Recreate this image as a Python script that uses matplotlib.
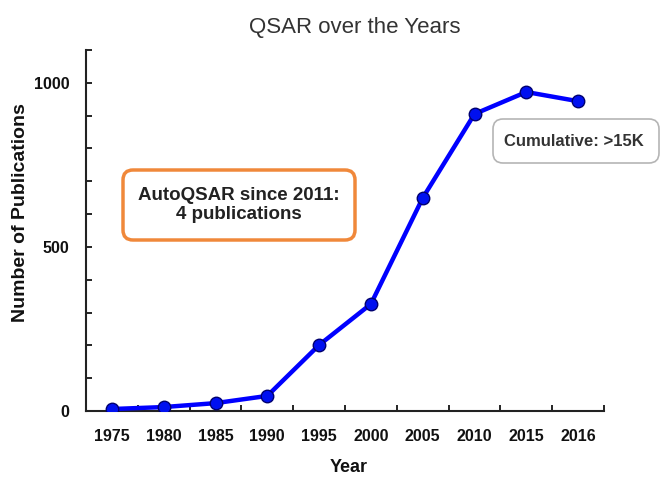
import numpy as np
import matplotlib
matplotlib.use("Agg")
import matplotlib.pyplot as plt
from matplotlib.patches import FancyBboxPatch
from matplotlib.ticker import MultipleLocator, FixedLocator

# ── data ──────────────────────────────────────────────────────────────────────
years = ["1975", "1980", "1985", "1990", "1995", "2000", "2005", "2010", "2015", "2016"]
publications = [6, 12, 24, 46, 201, 326, 649, 905, 972, 944]

plt.rcParams["font.family"] = ["Liberation Sans", "DejaVu Sans"]

fig = plt.figure(figsize=(6.62, 4.78), dpi=100)
ax = fig.add_axes([86 / 662, 67 / 478, 518 / 662, 361 / 478])

x = np.arange(len(years))
ax.plot(x, publications, color="#0000FF", linewidth=3.2, marker="o",
        markersize=9, markerfacecolor="#0010F0", markeredgecolor="#000070",
        markeredgewidth=1.0, zorder=3)

ax.set_xlim(-0.5, len(years) - 0.5)
ax.set_ylim(0, 1100)

# category ticks: labels at centres, tick marks at boundaries
ax.set_xticks(x)
ax.set_xticklabels(years, fontweight="bold", fontsize=11.5, color="#111111")
ax.tick_params(axis="x", which="major", length=0, pad=13)
ax.xaxis.set_minor_locator(FixedLocator(np.arange(0.5, len(years), 1.0)))
ax.tick_params(axis="x", which="minor", direction="in", length=4, width=1.2)

ax.yaxis.set_major_locator(FixedLocator([0, 500, 1000]))
ax.yaxis.set_minor_locator(MultipleLocator(100))
ax.tick_params(axis="y", which="both", direction="in", length=4, width=1.2, pad=12)
for lbl in ax.get_yticklabels():
    lbl.set_fontweight("bold")
    lbl.set_fontsize(11.5)
    lbl.set_color("#111111")

for side in ["top", "right"]:
    ax.spines[side].set_visible(False)
for side in ["left", "bottom"]:
    ax.spines[side].set_linewidth(1.5)
    ax.spines[side].set_color("#222222")

ax.set_xlabel("Year", fontweight="bold", fontsize=13, color="#111111", va="center")
ax.xaxis.set_label_coords(0.508, -0.157)
ax.set_ylabel("Number of Publications", fontweight="bold", fontsize=14,
              color="#111111", va="center", ha="center")
ax.yaxis.set_label_coords(-0.127, 0.551)

fig.text(355 / 662, 1 - 27 / 478, "QSAR over the Years", ha="center", va="center",
         fontsize=16, color="#333333")

# ── annotation boxes (drawn in inch coords, 100 px per inch) ────────────────
def px_box(x0, y0, x1, y1, edge, lw):
    box = FancyBboxPatch((x0 / 100, (478 - y1) / 100), (x1 - x0) / 100, (y1 - y0) / 100,
                         boxstyle="round,pad=0,rounding_size=0.1",
                         transform=fig.dpi_scale_trans, facecolor="white",
                         edgecolor=edge, linewidth=lw, zorder=5)
    fig.add_artist(box)

px_box(123, 170, 355, 240, "#F0883A", 2.5)
fig.text(239 / 662, 1 - 205 / 478, "AutoQSAR since 2011:\n4 publications",
         ha="center", va="center", fontsize=13.5, fontweight="bold",
         color="#222222", linespacing=1.2, zorder=6)

px_box(493, 119, 659, 163, "#B5B5B5", 1.2)
fig.text(574 / 662, 1 - 141 / 478, "Cumulative: >15K", ha="center", va="center",
         fontsize=12, fontweight="bold", color="#333333", zorder=6)

fig.savefig("out.png", dpi=100)
